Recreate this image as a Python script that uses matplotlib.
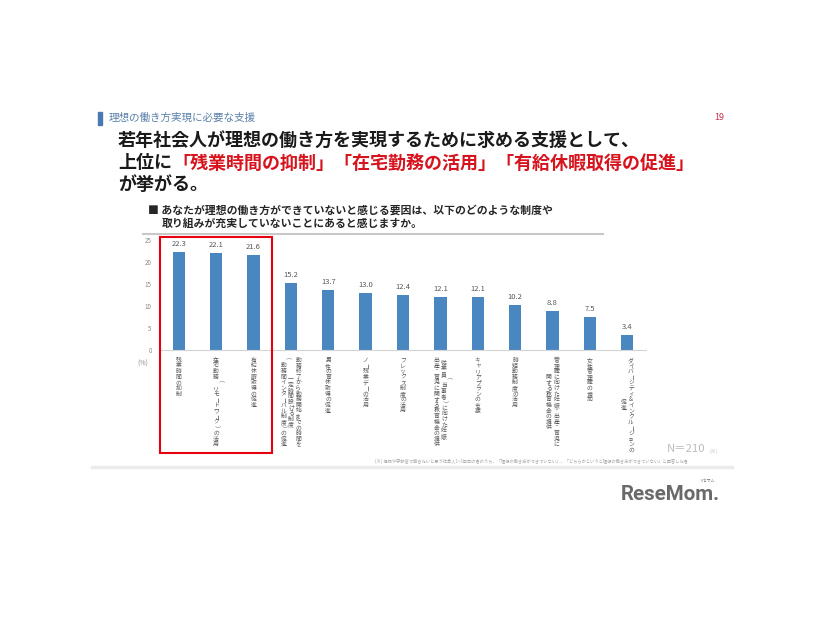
import matplotlib
matplotlib.use('Agg')
from matplotlib import pyplot as plt
from matplotlib.patches import Rectangle
from matplotlib.lines import Line2D
import matplotlib.transforms as mtransforms

plt.rcParams['font.family'] = ['Noto Sans CJK JP', 'DejaVu Sans']

# texts
header = '理想の働き方実現に必要な支援'
page_no = '19'
title_1 = '若年社会人が理想の働き方を実現するために求める支援として、'
title_2a = '上位に'
title_2b = '「残業時間の抑制」「在宅勤務の活用」「有給休暇取得の促進」'
title_3 = 'が挙がる。'
question_1 = '■ あなたが理想の働き方ができていないと感じる要因は、以下のどのような制度や'
question_2 = '取り組みが充実していないことにあると感じますか。'
sample_note = 'N＝210'
footnote = ('(※) 福岡や宇都宮で働きたいと思う社会人1~3年目の者のうち、'
            '「理想の働き方ができていない」、「どちらかというと理想の働き方ができていない」と回答した者')

# data (columns of a vertical label are split by \n, first column is rightmost)
categories = [
    '残業時間の抑制',
    '在宅勤務（リモートワーク）の活用',
    '有給休暇取得の促進',
    '勤務終了から勤務開始までの時間を\n一定時間設ける制度\n（勤務間インターバル制度）の促進',
    '男性の育休取得の促進',
    'ノー残業デーの活用',
    'フレックス制度の活用',
    '従業員（当事者）に向けた妊娠・\n出産・育児に関する教育機会の提供',
    'キャリアプランの支援',
    '時短勤務制度の活用',
    '管理職に向けた妊娠・出産・育児に\n関する教育機会の提供',
    '女性管理職の増加',
    'ダイバーシティ＆インクルージョンの\n促進',
]
values = [22.3, 22.1, 21.6, 15.2, 13.7, 13.0, 12.4, 12.1, 12.1, 10.2, 8.8, 7.5, 3.4]
y_ticks = [0, 5, 10, 15, 20, 25]

W, H = 826, 620
fig = plt.figure(figsize=(W / 100, H / 100), dpi=100)
fig.patch.set_facecolor('white')


def fx(px):
    return px / W


def fy(py):
    return 1 - py / H


# chart
ax = fig.add_axes([fx(160), fy(350), (646 - 160) / W, (350 - 240) / H])
x = list(range(len(values)))
ax.bar(x, values, width=0.33, color='#4a86c0')
ax.set_xlim(-0.5, len(values) - 0.5)
ax.set_ylim(0, 25)
ax.set_yticks(y_ticks)
ax.tick_params(axis='y', length=0, labelsize=4.5, labelcolor='#8c8c8c', pad=6)
ax.set_xticks([])
for s in ['top', 'right', 'left']:
    ax.spines[s].set_visible(False)
ax.spines['bottom'].set_color('#d4d4d4')
ax.spines['bottom'].set_linewidth(0.8)
ax.set_facecolor('none')

for xi, v in zip(x, values):
    ax.annotate(f'{v:.1f}', xy=(xi, v), xytext=(0, 3), textcoords='offset points',
                ha='center', va='bottom', fontsize=5.5, color='#595959')

# vertical category labels, one char at a time
step = 4.05
col_gap = 5.4
top = 7.4
for xi, label in zip(x, categories):
    cols = label.split('\n')
    n_max = max(len(c) for c in cols)
    for j, col in enumerate(cols):
        dx = ((len(cols) - 1) / 2 - j) * col_gap
        y0 = top + (n_max - len(col)) * step / 2
        for k, ch in enumerate(col):
            rot = -90 if ch in 'ー（）' else 0
            ax.annotate(ch, xy=(xi, 0), xycoords=('data', 'axes fraction'),
                        xytext=(dx, -(y0 + k * step)), textcoords='offset points',
                        ha='center', va='center', fontsize=4.2, color='#595959',
                        rotation=rot)

fig.text(fx(143), fy(364), '(%)', fontsize=5, color='#8c8c8c', ha='center', va='center')

# red highlight box around top 3
trans = mtransforms.blended_transform_factory(ax.transData, fig.transFigure)
fig.add_artist(Rectangle((-0.5, fy(453)), 3, fy(237) - fy(453), transform=trans,
                         fill=False, edgecolor='#e60012', linewidth=1.5))

# header
fig.add_artist(Rectangle((fx(98), fy(125)), fx(4), 13 / H, transform=fig.transFigure,
                         color='#4a78b0'))
fig.text(fx(109), fy(118), header, fontsize=7.6, color='#5a80aa', va='center')
fig.text(fx(724), fy(118), page_no, fontsize=6.5, color='#c8324a', va='center', ha='right')

# title
fig.text(fx(118), fy(141), title_1, fontsize=13, fontweight='bold', color='#1a1a1a', va='center')
t2 = fig.text(fx(118), fy(163), title_2a, fontsize=13, fontweight='bold', color='#1a1a1a', va='center')
fig.canvas.draw()
bb = t2.get_window_extent(renderer=fig.canvas.get_renderer())
fig.text(bb.x1 / W, fy(163), title_2b, fontsize=13, fontweight='bold', color='#d7141e', va='center')
fig.text(fx(118), fy(184), title_3, fontsize=13, fontweight='bold', color='#1a1a1a', va='center')

# question
fig.text(fx(148), fy(210), question_1, fontsize=7.8, fontweight='bold', color='#262626', va='center')
fig.text(fx(162), fy(224), question_2, fontsize=7.8, fontweight='bold', color='#262626', va='center')
fig.add_artist(Line2D([fx(143), fx(603)], [fy(234), fy(234)], color='#c8c8c8', lw=1.5))

# notes
fig.text(fx(667), fy(449), sample_note, fontsize=8.2, color='#bdbdbd', va='center')
fig.text(fx(710), fy(451), '(※)', fontsize=3.5, color='#bdbdbd', va='center')
fig.text(fx(375), fy(461), footnote, fontsize=3.1, color='#a8a8a8', va='center')
fig.add_artist(Line2D([fx(92), fx(732)], [fy(467), fy(467)], color='#ececec', lw=2.5))

# logo
fig.text(fx(621), fy(494), 'ReseMom.', fontfamily='Roboto', fontweight='bold',
         fontsize=14.8, color='#6a6a6a', va='center')
fig.text(fx(707), fy(481), 'リセマム', fontsize=2.8, color='#6a6a6a', va='center', ha='center')

fig.savefig('out.png', dpi=100, facecolor='white')
